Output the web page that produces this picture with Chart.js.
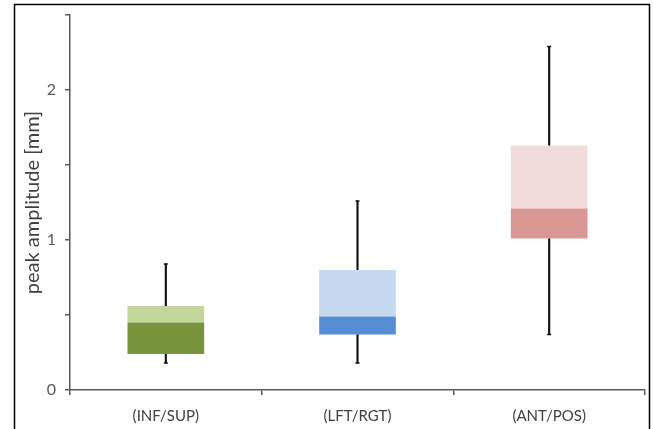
<!DOCTYPE html>
<html>
<head>
<meta charset="utf-8">
<script src="https://cdn.jsdelivr.net/npm/chart.js@4.4.1/dist/chart.umd.min.js"></script>
<style>
  html, body { margin: 0; padding: 0; background: #fff; overflow: hidden; }
  canvas { display: block; }
</style>
</head>
<body>
<canvas id="chart" width="653" height="429"></canvas>
<script>
// Box plot data
const categories = ['(INF/SUP)', '(LFT/RGT)', '(ANT/POS)'];
const whiskerMin = [0.18, 0.18, 0.37];
const q1 = [0.24, 0.37, 1.01];
const median = [0.45, 0.49, 1.21];
const q3 = [0.56, 0.80, 1.63];
const whiskerMax = [0.84, 1.26, 2.29];

const darkColors = ['#77933C', '#558ED5', '#D99694'];
const lightColors = ['#C3D69B', '#C6D9F1', '#F2DCDB'];

const lowerBox = categories.map((c, i) => [q1[i], median[i]]);
const upperBox = categories.map((c, i) => [median[i], q3[i]]);
const lowerWhisker = categories.map((c, i) => [whiskerMin[i], q1[i]]);
const upperWhisker = categories.map((c, i) => [q3[i], whiskerMax[i]]);

const fontFamily = 'Lato, sans-serif';

// outer black frame of the figure
const framePlugin = {
  id: 'frame',
  afterDraw(chart) {
    const c = chart.ctx;
    c.save();
    c.strokeStyle = '#000';
    c.lineWidth = 1.5;
    c.strokeRect(14.5, 4.5, 635, 500);
    c.restore();
  }
};

const ctx = document.getElementById('chart').getContext('2d');
new Chart(ctx, {
  type: 'bar',
  data: {
    labels: categories,
    datasets: [
      {
        label: 'lower whisker',
        data: lowerWhisker,
        backgroundColor: '#111',
        barThickness: 1.5,
        grouped: false,
        order: 2
      },
      {
        label: 'upper whisker',
        data: upperWhisker,
        backgroundColor: '#111',
        barThickness: 1.5,
        grouped: false,
        order: 2
      },
      {
        label: 'lower',
        data: lowerBox,
        backgroundColor: darkColors,
        barPercentage: 0.4,
        categoryPercentage: 1,
        grouped: false,
        order: 1
      },
      {
        label: 'upper',
        data: upperBox,
        backgroundColor: lightColors,
        barPercentage: 0.4,
        categoryPercentage: 1,
        grouped: false,
        order: 1
      },
      {
        type: 'line',
        label: 'max',
        data: whiskerMax,
        showLine: false,
        pointStyle: 'line',
        pointRadius: 2,
        borderColor: '#111',
        pointBorderWidth: 1.5,
        order: 0
      },
      {
        type: 'line',
        label: 'min',
        data: whiskerMin,
        showLine: false,
        pointStyle: 'line',
        pointRadius: 2,
        borderColor: '#111',
        pointBorderWidth: 1.5,
        order: 0
      }
    ]
  },
  options: {
    responsive: false,
    animation: false,
    layout: { padding: { top: 15, right: 8, left: 21, bottom: 0 } },
    plugins: {
      legend: { display: false },
      tooltip: { enabled: false }
    },
    scales: {
      x: {
        offset: true,
        grid: {
          offset: true,
          drawOnChartArea: false,
          drawTicks: true,
          tickLength: 5,
          color: '#595959',
          lineWidth: 1.5
        },
        border: { color: '#595959', width: 1.5 },
        ticks: {
          color: '#404040',
          font: { family: fontFamily, size: 15 },
          padding: 12
        },
        afterFit: function(scale) { scale.height = 39; }
      },
      y: {
        min: 0,
        max: 2.5,
        grid: {
          drawOnChartArea: false,
          drawTicks: true,
          tickLength: 5,
          color: '#595959',
          lineWidth: 1.5
        },
        border: { color: '#595959', width: 1.5 },
        ticks: {
          stepSize: 0.5,
          color: '#595959',
          font: { family: fontFamily, size: 16 },
          padding: 9,
          callback: function(v) { return Number.isInteger(v) ? String(v) : ''; }
        },
        title: {
          display: true,
          text: 'peak amplitude [mm]',
          color: '#404040',
          font: { family: fontFamily, size: 20 },
          padding: { top: 0, bottom: 0 }
        },
        afterFit: function(scale) {
          scale.width = 49;
          scale.paddingTop = 0;
          scale.paddingBottom = 0;
        }
      }
    }
  },
  plugins: [framePlugin]
});
</script>
</body>
</html>
